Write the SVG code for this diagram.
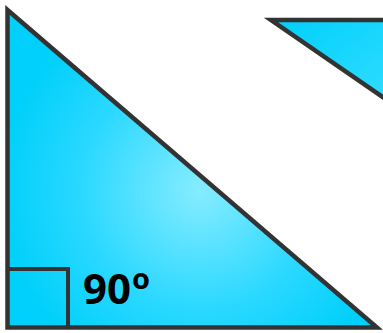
<svg xmlns="http://www.w3.org/2000/svg" width="383" height="333" viewBox="0 0 383 333">
<defs>
<radialGradient id="g1" gradientUnits="userSpaceOnUse" cx="200" cy="190" r="200">
<stop offset="0" stop-color="#86ecff"/>
<stop offset="0.6" stop-color="#2ad8ff"/>
<stop offset="1" stop-color="#00d0fb"/>
</radialGradient>
<linearGradient id="g2" x1="0" y1="0" x2="1" y2="1">
<stop offset="0" stop-color="#00d0fb"/>
<stop offset="1" stop-color="#30dcff"/>
</linearGradient>
<style>
.tri{stroke:#333;stroke-width:4.5;stroke-linejoin:miter}
.sq{fill:none;stroke:#333;stroke-width:4}
.lbl{font-family:"Open Sans","Noto Sans",sans-serif;font-weight:700;fill:#000}
</style>
</defs>
<g id="triangle-main">
<polygon class="tri" points="7.5,10 7.5,327.5 377,327.5" fill="url(#g1)"/>
<polyline class="sq" points="7.5,269 68,269 68,327.5"/>
<text class="lbl" x="83" y="303.5" font-size="42">90<tspan font-size="29" dy="-15" dx="1">o</tspan></text>
</g>
<g id="triangle-right">
<polygon class="tri" points="271,20 390,20 390,102" fill="url(#g2)"/>
</g>
</svg>
